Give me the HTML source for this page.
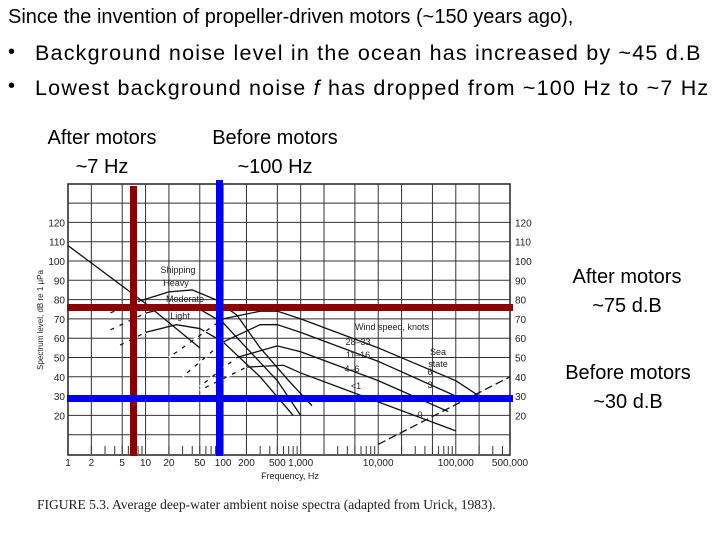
<!DOCTYPE html>
<html><head><meta charset="utf-8">
<style>
body{margin:0;background:#fff;width:720px;height:540px;overflow:hidden;position:relative;font-family:"Liberation Sans",Arial,sans-serif}
.t{position:absolute;font-size:20px;color:#000;white-space:nowrap}
.b{position:absolute;font-size:21.5px;color:#000;white-space:nowrap;line-height:26px;letter-spacing:1.2px}
.c{position:absolute;font-size:20px;color:#000;text-align:center;line-height:29px}
</style></head><body>
<div class="t" style="left:8px;top:6px">Since the invention of propeller-driven motors (~150 years ago),</div>
<div class="t" style="left:8px;top:41px">•</div>
<div class="b" style="left:35px;top:40px">Background noise level in the ocean has increased by ~45 d.B</div>
<div class="t" style="left:8px;top:75px">•</div>
<div class="b" style="left:35px;top:75px">Lowest background noise <i>f</i> has dropped from ~100 Hz to ~7 Hz</div>
<div class="c" style="left:22px;top:124px;width:160px">After motors<br>~7 Hz</div>
<div class="c" style="left:195px;top:124px;width:160px">Before motors<br>~100 Hz</div>
<div class="c" style="left:547px;top:263px;width:160px">After motors<br>~75 d.B</div>
<div class="c" style="left:548px;top:359px;width:160px">Before motors<br>~30 d.B</div>
<svg id="chart" width="720" height="540" style="position:absolute;left:0;top:0" xmlns="http://www.w3.org/2000/svg"></svg>
<script>
const yTicks=[20,30,40,50,60,70,80,90,100,110,120];
const xTickVals=[1,2,5,10,20,50,100,200,500,1000,10000,100000,500000];
const xTickLabels=["1","2","5","10","20","50","100","200","500","1,000","10,000","100,000","500,000"];
const heavyF=[3,8,20,40,80,150,300,700,1400];
const heavyDB=[72,79,84,85,80,72,55,38,25];
const moderateF=[3,10,25,50,100,200,500,1000];
const moderateDB=[63,73,77,75,68,55,38,20];
const lightF=[4,10,25,50,100,300,800];
const lightDB=[55,63,67,65,58,40,20];
const w28F=[20,100,300,500,1000,10000,100000,200000];
const w28DB=[50,70,74,74,70,55,38,30];
const w11F=[30,100,300,500,1000,10000,100000];
const w11DB=[40,58,67,67,63,48,30];
const w4F=[50,150,500,1000,10000,80000];
const w4DB=[35,50,56,53,38,22];
const w1F=[50,200,600,1000,10000,100000];
const w1DB=[33,45,46,42,27,12];
const turbF=[1,10,50];
const turbDB=[108,78,55];
const thermF=[10000,500000];
const thermDB=[5,40];
const X0=68,X1=510,Y0=454,PPD=19.3;
const sx=f=>X0+(X1-X0)*Math.log10(f)/Math.log10(500000);
const sy=v=>Y0-v*PPD/10;
const svg=document.getElementById('chart');
const NS='http://www.w3.org/2000/svg';
function mk(tag,attrs,parent){const e=document.createElementNS(NS,tag);for(const k in attrs)e.setAttribute(k,attrs[k]);(parent||svg).appendChild(e);return e;}
let fr=mk('rect',{x:X0,y:184,width:X1-X0,height:Y0-184+1,fill:'none',stroke:'#222','stroke-width':1.5});


for(let v=10;v<=130;v+=10){let g=mk('line',{x1:X0,x2:X1,y1:sy(v),y2:sy(v),stroke:'#333','stroke-width':1});

}
for(let d=0;d<6;d++)for(const m of [1,2,5]){const f=m*Math.pow(10,d);if(f>=500000||f==1)continue;let g=mk('line',{x1:sx(f),x2:sx(f),y1:184,y2:Y0,stroke:'#333','stroke-width':1});

}
for(let d=0;d<6;d++)for(let m=2;m<10;m++){const f=m*Math.pow(10,d);if(f>500000)continue;let t=mk('line',{x1:sx(f),x2:sx(f),y1:Y0-8,y2:Y0,stroke:'#333'});

}
yTicks.forEach(v=>{let a=mk('text',{x:X0-3,y:sy(v)+4,'text-anchor':'end','font-size':10,fill:'#222'});a.textContent=v;


let b=mk('text',{x:X1+5,y:sy(v)+4,'font-size':10,fill:'#222'});b.textContent=v;

});
xTickVals.forEach((f,i)=>{let a=mk('text',{x:sx(f),y:Y0+12,'text-anchor':'middle','font-size':10,fill:'#222'});a.textContent=xTickLabels[i];

});
let xt=mk('text',{x:290,y:Y0+25,'text-anchor':'middle','font-size':9,fill:'#222'});xt.textContent='Frequency, Hz';


let yt=mk('text',{x:0,y:0,'text-anchor':'middle','font-size':8,fill:'#222',transform:'translate(43,320) rotate(-90)'});yt.textContent='Spectrum level, dB re 1 μPa';


function curve(F,D,name,dashFirst){
 const pts=F.map((f,i)=>sx(f)+','+sy(D[i]));
 let p=mk('polyline',{points:pts.join(' '),fill:'none',stroke:'#111','stroke-width':1.3});
 
 
 if(dashFirst){let q=mk('polyline',{points:pts.slice(0,2).join(' '),fill:'none',stroke:'#fff','stroke-width':2,'stroke-dasharray':'6 4'});}
}
curve(heavyF,heavyDB,'heavy-shipping-curve',true);
curve(moderateF,moderateDB,'moderate-shipping-curve',true);
curve(lightF,lightDB,'light-shipping-curve',true);
curve(w28F,w28DB,'wind-28-33-curve',true);
curve(w11F,w11DB,'wind-11-16-curve',true);
curve(w4F,w4DB,'wind-4-6-curve',true);
curve(w1F,w1DB,'wind-lt1-curve',true);
curve(turbF,turbDB,'turbulence-curve',false);
let th=mk('polyline',{points:thermF.map((f,i)=>sx(f)+','+sy(thermDB[i])).join(' '),fill:'none',stroke:'#111','stroke-width':1.3,'stroke-dasharray':'8 4'});


const labels=[['Shipping',178,273],['Heavy',176,286],['Moderate',185,302],['Light',180,319],['Wind speed, knots',392,330],['28–33',358,345],['11–16',358,358],['4–6',352,372],['<1',356,389],['Sea',438,355],['state',438,367],['6',430,375],['3',430,388],['1',428,402],['0',420,418]];
labels.forEach(l=>{let t=mk('text',{x:l[1],y:l[2],'font-size':9,fill:'#222','text-anchor':'middle'});t.textContent=l[0];

});
let r1=mk('rect',{x:130,y:186,width:7,height:270,fill:'#8b0000'});


let r2=mk('rect',{x:67,y:304,width:446,height:7,fill:'#8b0000'});


let b1=mk('rect',{x:216,y:180,width:7,height:276,fill:'#0000ee'});


let b2=mk('rect',{x:67,y:395,width:446,height:7,fill:'#0000ee'});


let cap=mk('text',{x:37,y:509,'font-size':13.5,fill:'#222','font-family':'Liberation Serif, serif'});cap.textContent='FIGURE 5.3.  Average deep-water ambient noise spectra (adapted from Urick, 1983).';


</script>
</body></html>
